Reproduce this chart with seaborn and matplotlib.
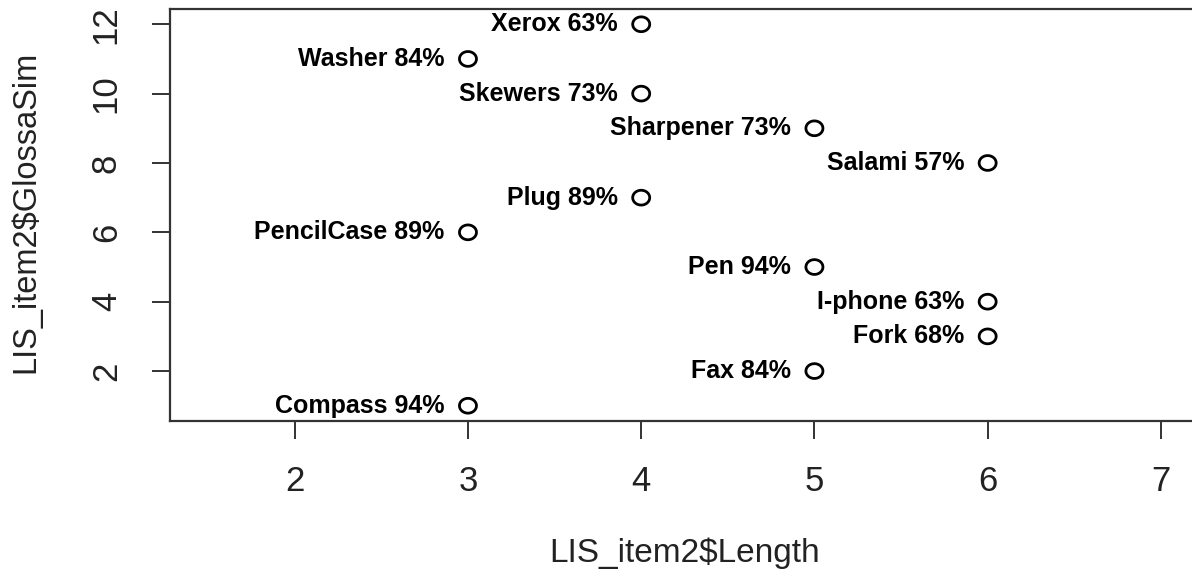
import numpy as np
import matplotlib
matplotlib.use("Agg")
import matplotlib.pyplot as plt
from matplotlib.path import Path
import pandas as pd
import seaborn as sns

# Items, word length, GlossaSim rank and similarity percentages
items = ["Compass", "Fax", "Fork", "I-phone", "Pen", "PencilCase",
         "Plug", "Salami", "Sharpener", "Skewers", "Washer", "Xerox"]
length = [3, 5, 6, 6, 5, 3, 4, 6, 5, 4, 3, 4]
glossa_sim = [1, 2, 3, 4, 5, 6, 7, 8, 9, 10, 11, 12]
percent = [94, 84, 68, 63, 94, 89, 89, 57, 73, 73, 84, 63]

x_ticks = [2, 3, 4, 5, 6, 7]
y_ticks = [2, 4, 6, 8, 10, 12]

df = pd.DataFrame({"Length": length, "GlossaSim": glossa_sim,
                   "item": items, "pct": percent})

sns.set_theme(style="white")
plt.rcParams["font.family"] = ["Liberation Sans", "DejaVu Sans"]

fig = plt.figure(figsize=(11.92, 5.73), dpi=100)
ax = fig.add_axes([170 / 1192, (573 - 421) / 573, 1029 / 1192, 412 / 573])

# slightly wide open-circle marker
t = np.linspace(0, 2 * np.pi, 73)
ellipse = Path(np.column_stack([1.15 * np.cos(t), np.sin(t)]), closed=True)

sns.scatterplot(data=df, x="Length", y="GlossaSim", ax=ax, marker=ellipse,
                s=150, facecolor="none", edgecolor="black", linewidth=2.0,
                legend=False)

for name, xv, yv, p in zip(items, length, glossa_sim, percent):
    ax.annotate(f"{name} {p}%", (xv, yv), xytext=(-17, 0),
                textcoords="offset points", ha="right", va="center",
                fontsize=18, fontweight="bold", color="black")

ax.set_xlim(1.28, 7.22)
ax.set_ylim(0.56, 12.44)
ax.set_xticks(x_ticks)
ax.set_yticks(y_ticks)
ax.set_xticklabels([str(v) for v in x_ticks])
ax.set_yticklabels([str(v) for v in y_ticks], rotation=90, va="center")

for side in ax.spines.values():
    side.set_visible(True)
    side.set_color("#333333")
    side.set_linewidth(1.6)

ax.tick_params(axis="both", direction="out", length=13, width=1.4,
               color="#333333", labelsize=25, labelcolor="#222222")
ax.tick_params(axis="x", pad=19, bottom=True)
ax.tick_params(axis="y", pad=21, left=True)

ax.set_xlabel("LIS_item2$Length", fontsize=24, color="#222222")
ax.set_ylabel("LIS_item2$GlossaSim", fontsize=23.5, color="#222222")
ax.xaxis.set_label_coords((685 - 170) / 1029, (421 - 553) / 412)
ax.xaxis.label.set_va("center")
ax.yaxis.set_label_coords((26 - 170) / 1029, (421 - 212) / 412)
ax.yaxis.label.set_va("center")

fig.savefig("out.png", dpi=100, facecolor="white")
